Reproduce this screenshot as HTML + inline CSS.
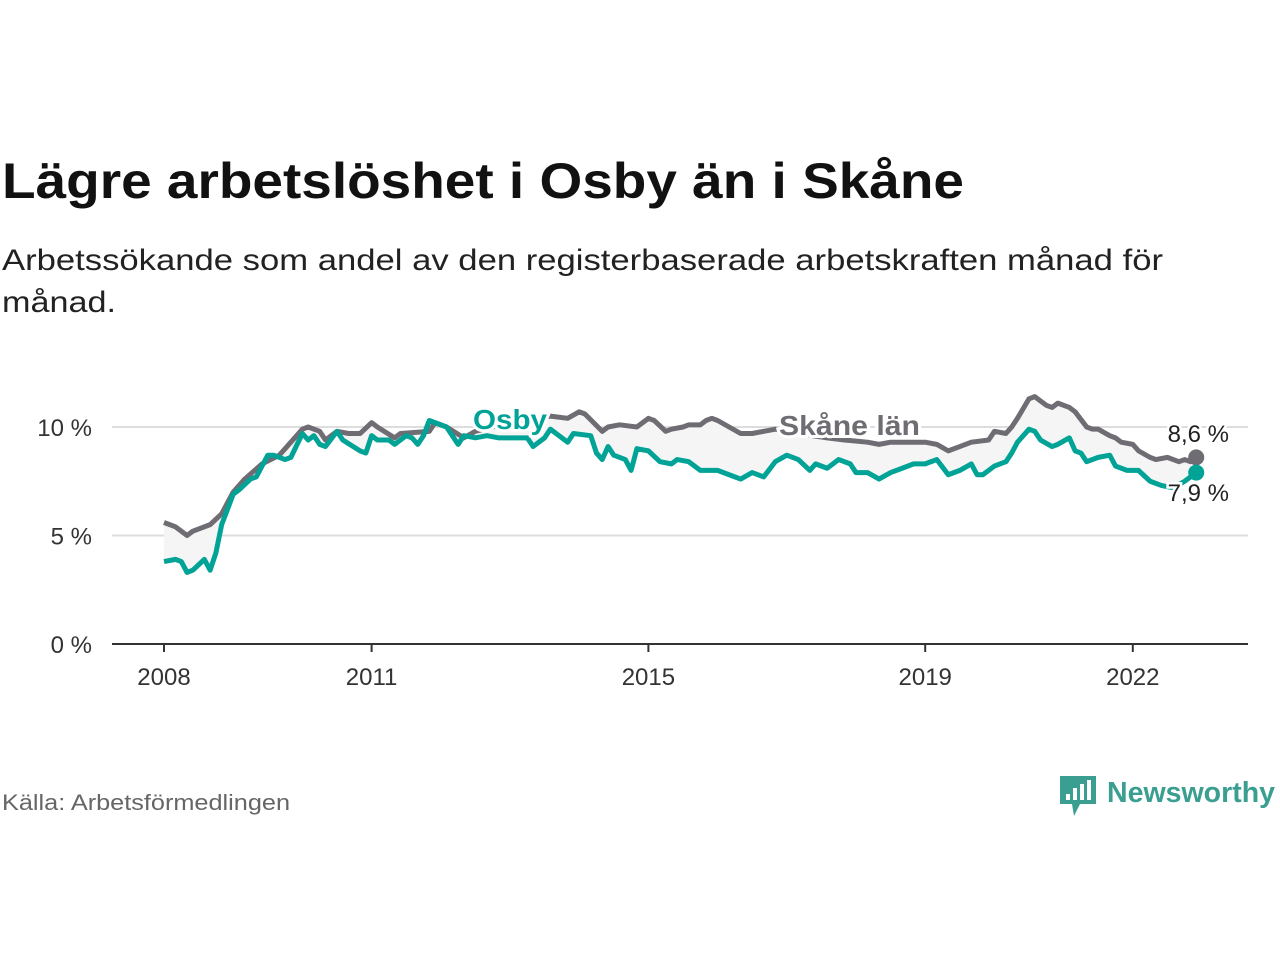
<!DOCTYPE html>
<html><head><meta charset="utf-8"><style>
body{margin:0;width:1280px;height:960px;background:#fff;font-family:"Liberation Sans",sans-serif;overflow:hidden}
</style></head><body>
<svg width="1280" height="960">
<text x="2" y="198" font-size="50" font-weight="bold" fill="#111" textLength="962" lengthAdjust="spacingAndGlyphs">Lägre arbetslöshet i Osby än i Skåne</text>
<text x="2" y="270" font-size="30" fill="#222" textLength="1161" lengthAdjust="spacingAndGlyphs">Arbetssökande som andel av den registerbaserade arbetskraften månad för</text>
<text x="2" y="312" font-size="30" fill="#222" textLength="114" lengthAdjust="spacingAndGlyphs">månad.</text>
<g id="plot"></g>
<text x="2" y="810" font-size="22" fill="#666" textLength="288" lengthAdjust="spacingAndGlyphs">Källa: Arbetsförmedlingen</text>
<g>
<path d="M1060 776h36v28h-16l-6 12-2-12h-12z" fill="#3a9e91"/>
<rect x="1066" y="794" width="4" height="6" fill="#fff"/><rect x="1073" y="788" width="4" height="12" fill="#fff"/><rect x="1080" y="784" width="4" height="16" fill="#fff"/><rect x="1087" y="780" width="4" height="20" fill="#fff"/>
<text x="1107" y="802" font-size="29" font-weight="bold" fill="#3a9e91" textLength="168" lengthAdjust="spacingAndGlyphs">Newsworthy</text>
</g>
</svg>
<script>
const yTicks=[0,5,10];
const yTickLabels=["0 %","5 %","10 %"];
const xTicks=[0,36,84,132,168];
const xTickLabels=["2008","2011","2015","2019","2022"];
const skaneMonths=[0,2,4,5,8,10,12,14,17,20,21,24,25,27,28,30,32,34,36,37,40,41,46,47,49,52,54,57,60,63,67,70,72,73,76,77,79,82,84,85,87,88,90,91,93,94,95,96,98,100,102,104,106,110,115,118,122,124,126,130,132,134,136,138,140,143,144,146,147,148,150,151,152,153,154,155,157,158,160,161,162,164,165,166,168,169,171,172,174,176,177,178,179];
const skaneValues=[5.6,5.4,5.0,5.2,5.5,6.0,7.0,7.6,8.3,8.7,9.0,9.9,10.0,9.8,9.4,9.8,9.7,9.7,10.2,10.0,9.5,9.7,9.8,10.2,10.0,9.5,9.8,10.0,10.2,10.3,10.5,10.4,10.7,10.6,9.8,10.0,10.1,10.0,10.4,10.3,9.8,9.9,10.0,10.1,10.1,10.3,10.4,10.3,10.0,9.7,9.7,9.8,9.9,9.7,9.5,9.4,9.3,9.2,9.3,9.3,9.3,9.2,8.9,9.1,9.3,9.4,9.8,9.7,10.0,10.4,11.3,11.4,11.2,11.0,10.9,11.1,10.9,10.7,10.0,9.9,9.9,9.6,9.5,9.3,9.2,8.9,8.6,8.5,8.6,8.4,8.5,8.4,8.6];
const osbyMonths=[0,2,3,4,5,7,8,9,10,12,13,15,16,18,19,21,22,24,25,26,27,28,30,31,34,35,36,37,39,40,42,43,44,45,46,49,50,51,52,54,56,58,63,64,66,67,69,70,71,74,75,76,77,78,80,81,82,84,86,88,89,91,93,95,96,98,100,102,104,106,108,110,112,113,115,117,119,120,122,124,126,128,130,132,134,136,138,140,141,142,144,146,147,148,150,151,152,154,155,157,158,159,160,162,164,165,167,169,171,173,175,177,179];
const osbyValues=[3.8,3.9,3.8,3.3,3.4,3.9,3.4,4.2,5.5,6.9,7.1,7.6,7.7,8.7,8.7,8.5,8.6,9.7,9.4,9.6,9.2,9.1,9.8,9.4,8.9,8.8,9.6,9.4,9.4,9.2,9.6,9.5,9.2,9.6,10.3,10.0,9.6,9.2,9.6,9.5,9.6,9.5,9.5,9.1,9.5,9.9,9.5,9.3,9.7,9.6,8.8,8.5,9.1,8.7,8.5,8.0,9.0,8.9,8.4,8.3,8.5,8.4,8.0,8.0,8.0,7.8,7.6,7.9,7.7,8.4,8.7,8.5,8.0,8.3,8.1,8.5,8.3,7.9,7.9,7.6,7.9,8.1,8.3,8.3,8.5,7.8,8.0,8.3,7.8,7.8,8.2,8.4,8.8,9.3,9.9,9.8,9.4,9.1,9.2,9.5,8.9,8.8,8.4,8.6,8.7,8.2,8.0,8.0,7.5,7.3,7.2,7.5,7.9];
const NS="http://www.w3.org/2000/svg";
const X=m=>164+m*69.2/12;
const Y=v=>644-v*21.7;
const g=document.getElementById('plot');
function el(t,a){const e=document.createElementNS(NS,t);for(const k in a)e.setAttribute(k,a[k]);g.appendChild(e);return e;}
yTicks.forEach((t,i)=>{
 if(t>0){const l=el('line',{x1:112,x2:1248,y1:Y(t),y2:Y(t),stroke:'#ddd','stroke-width':2});
 
 }
 const tx=el('text',{x:92,y:Y(t)+9,'font-size':24,fill:'#333','text-anchor':'end'});tx.textContent=yTickLabels[i];
 
 
});
function interp(ms,vs,m){for(let i=0;i<ms.length-1;i++){if(m>=ms[i]&&m<=ms[i+1])return vs[i]+(vs[i+1]-vs[i])*(m-ms[i])/(ms[i+1]-ms[i]);}return vs[vs.length-1];}
let d='';for(let m=0;m<=179;m++)d+=(m?'L':'M')+X(m)+' '+Y(interp(skaneMonths,skaneValues,m));
for(let m=179;m>=0;m--)d+='L'+X(m)+' '+Y(interp(osbyMonths,osbyValues,m));
const ar=el('path',{d:d+'Z',fill:'#f5f5f5'});


const ax=el('line',{x1:112,x2:1248,y1:644,y2:644,stroke:'#333','stroke-width':2});


xTicks.forEach((t,i)=>{
 const l=el('line',{x1:X(t),x2:X(t),y1:644,y2:652,stroke:'#333','stroke-width':2});
 
 
 const tx=el('text',{x:X(t),y:685,'font-size':24,fill:'#333','text-anchor':'middle'});tx.textContent=xTickLabels[i];
 
 
});
function line(ms,vs,c,name){const p=el('path',{d:ms.map((m,i)=>(i?'L':'M')+X(m)+' '+Y(vs[i])).join(''),fill:'none',stroke:c,'stroke-width':5,'stroke-linejoin':'round'});
 
 }
line(skaneMonths,skaneValues,'#6f6d73','skane-line');
line(osbyMonths,osbyValues,'#00a396','osby-line');
function lab(x,y,t,c,name,len){const tx=el('text',{x:x,y:y,'font-size':28,'font-weight':'bold',fill:c,stroke:'#fff','stroke-width':6,'paint-order':'stroke',textLength:len,lengthAdjust:'spacingAndGlyphs'});tx.textContent=t;
 
 }
lab(473,429,'Osby','#00a396','osby-label',74);
lab(779,435,'Skåne län','#6f6d73','skane-label',141);
const sl=skaneValues.length-1, ol=osbyValues.length-1;
const d1=el('circle',{cx:X(skaneMonths[sl]),cy:Y(skaneValues[sl]),r:8,fill:'#6f6d73'});


const d2=el('circle',{cx:X(osbyMonths[ol]),cy:Y(osbyValues[ol]),r:8,fill:'#00a396'});


function vl(y,t,name){const tx=el('text',{x:1229,y:y,'font-size':24,fill:'#222',stroke:'#fff','stroke-width':5,'paint-order':'stroke','text-anchor':'end'});tx.textContent=t;
 
 }
vl(442,skaneValues[sl].toFixed(1).replace('.',',')+' %','skane-end-value');
vl(501,osbyValues[ol].toFixed(1).replace('.',',')+' %','osby-end-value');
</script>
</body></html>
